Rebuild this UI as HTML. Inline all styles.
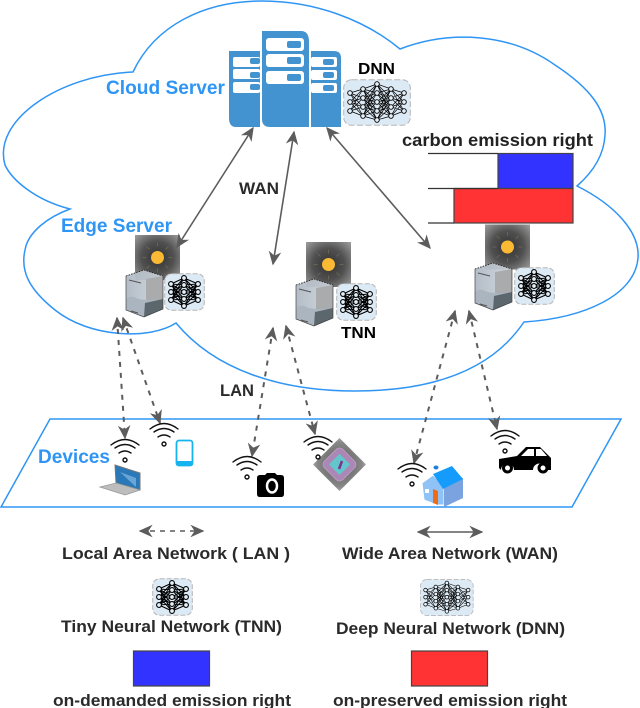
<!DOCTYPE html>
<html><head><meta charset="utf-8"><style>
html,body{margin:0;padding:0;background:#fff;width:640px;height:708px;overflow:hidden}
svg{display:block}
text{font-family:"Liberation Sans",sans-serif;font-weight:bold}
.b{fill:#2f95f5;font-size:19px}
.k{fill:#2a2a2a;font-size:16.5px}
.w{fill:none;stroke:#111;stroke-width:1.4;stroke-linecap:round}
</style></head><body>
<svg width="640" height="708" viewBox="0 0 640 708" xmlns="http://www.w3.org/2000/svg">
<defs>
<marker id="a" viewBox="0 0 10 10" refX="9" refY="5" markerWidth="14" markerHeight="14" markerUnits="userSpaceOnUse" orient="auto-start-reverse"><path d="M0 0.5L10 5L0 9.5L3 5z" fill="#5c5c5c"/></marker>
<radialGradient id="sg" r=".71"><stop offset="0" stop-color="#333"/><stop offset=".5" stop-color="#505050"/><stop offset="1" stop-color="#a0a0a0"/></radialGradient>
<radialGradient id="cg" r=".6"><stop offset="0" stop-color="#555"/><stop offset=".7" stop-color="#888"/><stop offset="1" stop-color="#c8c8c8"/></radialGradient>
<linearGradient id="lg" x1="0" x2="1" y1="0" y2="0"><stop offset="0" stop-color="#aeb8c3"/><stop offset="1" stop-color="#cdd3da"/></linearGradient>
<g id="sun"><rect x="-22.5" y="-22.5" width="45" height="45" fill="url(#sg)"/><g stroke="#6b6250" stroke-width="1"><path d="M0 -11V-15M0 11V15M-11 0H-15M11 0H15M-8 -8L-11 -11M8 -8L11 -11M-8 8L-11 11M8 8L11 11"/></g><circle r="6.5" fill="#fbb934"/></g>
<g id="srv">
<path d="M0 6L18 0L37 6V39L18 47L0 40z" fill="url(#lg)" fill-opacity=".92"/>
<path d="M0 6L18 0L37 6" fill="none" stroke="#222" stroke-width=".9" stroke-dasharray="1.5 1.2"/>
<path d="M20 9L37 6V30L20 32z" fill="#a9abad"/>
<path d="M0 30Q2 26 8 27Q16 32 37 29V39L18 47L0 40z" fill="#aab5bf"/>
<path d="M19 33L37 29V39L18 47z" fill="#5b666d"/>
<path d="M0 6V40L18 47L37 39V6" fill="none" stroke="#444" stroke-width=".7"/>
<path d="M3 10L15 13" stroke="#555" stroke-width="1"/>
<path d="M5 41L12 43" stroke="#555" stroke-width="1"/>
</g>
<g id="tn">
<rect x=".7" y=".7" width="39.6" height="36.6" rx="7" fill="#dceaf6" stroke="#b5b5b5" stroke-width="1" stroke-dasharray="5 2"/>
<path d="M7 11L20 5M7 11L20 12M7 11L20 19M7 11L20 26M7 11L20 33M7 19L20 5M7 19L20 12M7 19L20 19M7 19L20 26M7 19L20 33M7 27L20 5M7 27L20 12M7 27L20 19M7 27L20 26M7 27L20 33M34 11L20 5M34 11L20 12M34 11L20 19M34 11L20 26M34 11L20 33M34 19L20 5M34 19L20 12M34 19L20 19M34 19L20 26M34 19L20 33M34 27L20 5M34 27L20 12M34 27L20 19M34 27L20 26M34 27L20 33" stroke="#000" stroke-width="1.1" fill="none"/>
<g fill="#e6f0f8" stroke="#000" stroke-width="1.1"><circle cx="7" cy="11" r="2.4"/><circle cx="7" cy="19" r="2.4"/><circle cx="7" cy="27" r="2.4"/><circle cx="34" cy="11" r="2.4"/><circle cx="34" cy="19" r="2.4"/><circle cx="34" cy="27" r="2.4"/><circle cx="20" cy="5" r="2.4"/><circle cx="20" cy="12" r="2.4"/><circle cx="20" cy="19" r="2.4"/><circle cx="20" cy="26" r="2.4"/><circle cx="20" cy="33" r="2.4"/></g>
</g>
<g id="dn">
<rect x=".7" y=".7" width="66.6" height="45.6" rx="8" fill="#dceaf6" stroke="#b5b5b5" stroke-width="1" stroke-dasharray="6 2.5"/>
<path d="M7 14L20 10M7 14L20 19M7 14L20 28M7 14L20 37M7 23L20 10M7 23L20 19M7 23L20 28M7 23L20 37M7 32L20 10M7 32L20 19M7 32L20 28M7 32L20 37M20 10L34 5M20 10L34 14M20 10L34 23M20 10L34 32M20 10L34 41M20 19L34 5M20 19L34 14M20 19L34 23M20 19L34 32M20 19L34 41M20 28L34 5M20 28L34 14M20 28L34 23M20 28L34 32M20 28L34 41M20 37L34 5M20 37L34 14M20 37L34 23M20 37L34 32M20 37L34 41M48 10L34 5M48 10L34 14M48 10L34 23M48 10L34 32M48 10L34 41M48 19L34 5M48 19L34 14M48 19L34 23M48 19L34 32M48 19L34 41M48 28L34 5M48 28L34 14M48 28L34 23M48 28L34 32M48 28L34 41M48 37L34 5M48 37L34 14M48 37L34 23M48 37L34 32M48 37L34 41M61 14L48 10M61 14L48 19M61 14L48 28M61 14L48 37M61 23L48 10M61 23L48 19M61 23L48 28M61 23L48 37M61 32L48 10M61 32L48 19M61 32L48 28M61 32L48 37" stroke="#000" stroke-width=".7" fill="none"/>
<g fill="#e6f0f8" stroke="#000" stroke-width=".9"><circle cx="7" cy="14" r="2.3"/><circle cx="7" cy="23" r="2.3"/><circle cx="7" cy="32" r="2.3"/><circle cx="61" cy="14" r="2.3"/><circle cx="61" cy="23" r="2.3"/><circle cx="61" cy="32" r="2.3"/><circle cx="20" cy="10" r="2.3"/><circle cx="20" cy="19" r="2.3"/><circle cx="20" cy="28" r="2.3"/><circle cx="20" cy="37" r="2.3"/><circle cx="48" cy="10" r="2.3"/><circle cx="48" cy="19" r="2.3"/><circle cx="48" cy="28" r="2.3"/><circle cx="48" cy="37" r="2.3"/><circle cx="34" cy="5" r="2.3"/><circle cx="34" cy="14" r="2.3"/><circle cx="34" cy="23" r="2.3"/><circle cx="34" cy="32" r="2.3"/><circle cx="34" cy="41" r="2.3"/></g>
</g>
<g id="wf"><circle r="2" fill="none" stroke="#111" stroke-width="1.4"/><path class="w" d="M-6 -7Q0 -11 6 -7M-10 -12Q0 -19 10 -12M-14 -15Q0 -26 14 -15"/></g>
</defs>

<!-- cloud -->
<path d="M133 72C155 25 205 1 262 1C315 1 365 20 400 49C450 30 510 33 555 65C590 88 607 110 605 135C604 155 593 172 577 186C615 205 640 232 638 258C635 295 585 318 524 322C508 345 470 391 355 391C280 391 215 370 176 323C150 340 90 338 55 310C30 290 20 272 25 250C28 232 48 217 70 209C35 200 12 180 5 165C-8 120 60 75 133 72z" fill="none" stroke="#2f95f5" stroke-width="1.5"/>
<!-- devices plane -->
<path d="M50 419H621L572 507H1z" fill="none" stroke="#2f95f5" stroke-width="1.5"/>

<!-- main server -->
<g fill="#4493d1">
<path d="M229 51H260V127H236Q229 127 229 118z"/>
<path d="M262 31H301Q309 31 309 42V127H270Q262 127 262 119z"/>
<path d="M311 51H334Q341 51 341 58V127H311z"/>
</g>
<g fill="#fff">
<rect x="233" y="57" width="27" height="10" rx="2"/><rect x="233" y="69" width="27" height="10" rx="2"/><rect x="233" y="82" width="27" height="11" rx="2"/>
<rect x="266" y="38" width="38" height="13" rx="3"/><rect x="266" y="54" width="38" height="13" rx="3"/><rect x="266" y="71" width="38" height="13" rx="3"/>
<rect x="311" y="57" width="26" height="10" rx="2"/><rect x="311" y="70" width="26" height="10" rx="2"/><rect x="311" y="83" width="26" height="10" rx="2"/>
</g>
<g fill="#4493d1">
<rect x="250" y="58" width="10" height="6" rx="2"/><rect x="250" y="72" width="10" height="6" rx="2"/><rect x="250" y="84" width="10" height="6" rx="2"/>
<rect x="287" y="41" width="14" height="7" rx="2"/><rect x="287" y="57" width="14" height="7" rx="2"/><rect x="287" y="74" width="14" height="7" rx="2"/>
<rect x="323" y="59" width="11" height="6" rx="2"/><rect x="323" y="72" width="11" height="6" rx="2"/><rect x="323" y="85" width="11" height="6" rx="2"/>
</g>
<use href="#dn" x="343" y="79"/>

<!-- carbon bars -->
<rect x="498" y="153.500" width="75" height="35" fill="#3333ff" stroke="#444" stroke-width="1.2"/>
<rect x="454" y="188.500" width="119" height="34.500" fill="#ff3333" stroke="#444" stroke-width="1.2"/>
<path d="M428 153.500H498M428 188.500H498M428 223H454" stroke="#333" stroke-width="1.3"/>

<!-- suns and edge servers -->
<use href="#sun" x="157.500" y="257.500"/>
<use href="#sun" x="328.500" y="264.500"/>
<use href="#sun" x="507.500" y="247"/>
<use href="#srv" x="126" y="270"/>
<use href="#srv" x="296" y="279"/>
<use href="#srv" x="475" y="263"/>
<use href="#tn" x="164" y="273"/>
<use href="#tn" x="336" y="283"/>
<use href="#tn" x="514" y="267"/>

<!-- WAN arrows -->
<g stroke="#5c5c5c" stroke-width="1.6" fill="none">
<path d="M253 128L177 247" marker-start="url(#a)" marker-end="url(#a)"/>
<path d="M294 132L273 264" marker-start="url(#a)" marker-end="url(#a)"/>
<path d="M327 128L430 248" marker-start="url(#a)" marker-end="url(#a)"/>
</g>
<!-- LAN arrows -->
<g stroke="#5c5c5c" stroke-width="2" fill="none" stroke-dasharray="5 6">
<path d="M117 318L125 438" marker-start="url(#a)" marker-end="url(#a)"/>
<path d="M123 318L160 423" marker-start="url(#a)" marker-end="url(#a)"/>
<path d="M273 328L252 456" marker-start="url(#a)" marker-end="url(#a)"/>
<path d="M286 326L315 434" marker-start="url(#a)" marker-end="url(#a)"/>
<path d="M455 311L414 463" marker-start="url(#a)" marker-end="url(#a)"/>
<path d="M469 311L497 429" marker-start="url(#a)" marker-end="url(#a)"/>
</g>

<!-- laptop -->
<path d="M115 465L140 473V490L116 483z" fill="#2a78b8" stroke="#777" stroke-width="1"/>
<path d="M100 487L116 483L140 490L125 495z" fill="#bdbdbd" stroke="#999" stroke-width=".8"/>
<path d="M120 472L136 478V487z" fill="#69a5d6"/>
<!-- phone -->
<rect x="176.500" y="440.500" width="16" height="25" rx="2.500" fill="#fff" stroke="#17b3ee" stroke-width="1.800"/>
<rect x="176" y="461" width="17" height="5" rx="2" fill="#17b3ee"/>
<!-- camera -->
<path d="M257 478Q257 475 260 475H265L267 473H275L277 475H281Q284 475 284 478V494Q284 497 281 497H260Q257 497 257 494z" fill="#000"/>
<ellipse cx="272" cy="486" rx="5" ry="6.500" fill="#000" stroke="#fff" stroke-width="2.500"/>
<!-- chip -->
<path d="M339.500 438L366 464.500L339.500 491L313 464.500z" fill="url(#cg)"/>
<g transform="rotate(45 339.500 464.500)"><rect x="326.500" y="451.500" width="26" height="26" rx="5" fill="#ab87b5" stroke="#b998c0"/><rect x="332" y="457" width="15" height="15" fill="#62c6cc"/></g>
<path d="M342 461L339 469" stroke="#80308f" stroke-width="2.500" fill="none"/>
<!-- house -->
<path d="M422 483L433 475L444 486V505L437 505L424 500z" fill="#8fc2f5" stroke="#fff"/>
<path d="M444 487L463 478V498L444 507z" fill="#7ba3df"/>
<path d="M433 474L452 466L463 479L443 489z" fill="#149bfb"/>
<path d="M433 489L438 491V505L433 503z" fill="#f26a12"/>
<rect x="425" y="489" width="4" height="4" fill="#fff"/>
<ellipse cx="436" cy="467.500" rx="2.500" ry="2" fill="#1a80dc"/>
<!-- car -->
<path d="M499 459L517 456L526 447H540L551 458V470H546A6 6 0 0 0 533 470H514A6 6 0 0 0 501 470L499 468z" fill="#000"/>
<path d="M521 456L528 449H534V456zM536 449H541L547 456H536z" fill="#fff"/>
<circle cx="507.500" cy="468" r="4" fill="#fff" stroke="#000" stroke-width="3"/><circle cx="543" cy="468" r="4" fill="#fff" stroke="#000" stroke-width="3"/>

<!-- wifi -->
<use href="#wf" x="125" y="460"/>
<use href="#wf" x="164" y="444"/>
<use href="#wf" x="247" y="477"/>
<use href="#wf" x="318" y="457"/>
<use href="#wf" x="412" y="484"/>
<use href="#wf" x="505" y="451"/>

<!-- labels -->
<text class="b" x="106" y="94" textLength="119" lengthAdjust="spacingAndGlyphs">Cloud Server</text>
<text class="b" x="61" y="232" textLength="111" lengthAdjust="spacingAndGlyphs">Edge Server</text>
<text class="b" x="38" y="463" textLength="72" lengthAdjust="spacingAndGlyphs">Devices</text>
<text x="358" y="74" font-size="16" fill="#000" textLength="37" lengthAdjust="spacingAndGlyphs">DNN</text>
<text x="402" y="146" font-size="17.500" fill="#222" textLength="191" lengthAdjust="spacingAndGlyphs">carbon emission right</text>
<text class="k" x="239" y="194" textLength="40" lengthAdjust="spacingAndGlyphs">WAN</text>
<text x="341" y="338" font-size="16" fill="#000" textLength="35" lengthAdjust="spacingAndGlyphs">TNN</text>
<text class="k" x="220" y="396" textLength="34" lengthAdjust="spacingAndGlyphs">LAN</text>

<!-- legend -->
<path d="M140 531H203" stroke="#5c5c5c" stroke-width="1.500" stroke-dasharray="5 5" marker-start="url(#a)" marker-end="url(#a)"/>
<path d="M418 532H482" stroke="#5c5c5c" stroke-width="1.500" marker-start="url(#a)" marker-end="url(#a)"/>
<text class="k" x="62" y="559" textLength="228" lengthAdjust="spacingAndGlyphs">Local Area Network ( LAN )</text>
<text class="k" x="342" y="559" textLength="216" lengthAdjust="spacingAndGlyphs">Wide Area Network (WAN)</text>
<use href="#tn" x="152" y="578"/>
<use href="#dn" transform="translate(420 579) scale(.79)"/>
<text class="k" x="61" y="632" textLength="221" lengthAdjust="spacingAndGlyphs">Tiny Neural Network (TNN)</text>
<text class="k" x="336" y="634" textLength="229" lengthAdjust="spacingAndGlyphs">Deep Neural Network (DNN)</text>
<rect x="133.500" y="651" width="76" height="35" fill="#3333ff" stroke="#444" stroke-width="1.200"/>
<rect x="411.500" y="651" width="76" height="35" fill="#ff3333" stroke="#444" stroke-width="1.200"/>
<text class="k" x="53" y="706" textLength="238" lengthAdjust="spacingAndGlyphs">on-demanded emission right</text>
<text class="k" x="333" y="706" textLength="234" lengthAdjust="spacingAndGlyphs">on-preserved emission right</text>
</svg>
</body></html>
